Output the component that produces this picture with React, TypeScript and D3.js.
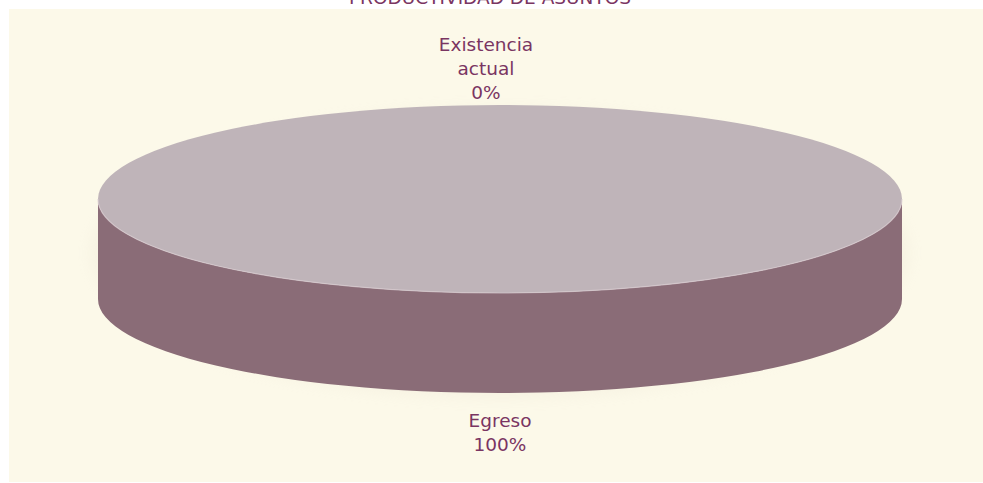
import React from "react";
import * as d3 from "d3";

const categories = ["Existencia actual", "Egreso"];
const values = [0, 100];
const labelLines = [["Existencia", "actual", "0%"], ["Egreso", "100%"]];
const title = "PRODUCTIVIDAD DE ASUNTOS";

const W = 983;
const H = 483;
const TOP = "#BFB4B9";
const SIDE = "#8A6C77";
const TEXT = "#7A3562";
const BG = "#FCF9E9";

export default function App() {
  const cx = 500, cy = 199, rx = 402, ry = 94, depth = 100;
  const pie = d3.pie<number>().sort(null).startAngle(0).endAngle(2 * Math.PI);
  const arcs = pie(values);
  const total = d3.sum(values);
  const pct = d3.format(".0%");

  const pt = (a: number, dy = 0) => [cx + rx * Math.sin(a), cy - ry * Math.cos(a) + dy];

  const slicePaths = arcs.map((a, i) => {
    const span = a.endAngle - a.startAngle;
    if (span <= 0) return null;
    let top: string;
    if (span >= 2 * Math.PI - 1e-6) {
      top = `M${cx - rx},${cy} A${rx},${ry} 0 1 1 ${cx + rx},${cy} A${rx},${ry} 0 1 1 ${cx - rx},${cy} Z`;
    } else {
      const [x0, y0] = pt(a.startAngle);
      const [x1, y1] = pt(a.endAngle);
      top = `M${cx},${cy} L${x0},${y0} A${rx},${ry} 0 ${span > Math.PI ? 1 : 0} 1 ${x1},${y1} Z`;
    }
    const s = Math.max(a.startAngle, Math.PI / 2);
    const e = Math.min(a.endAngle, (3 * Math.PI) / 2);
    let side: string | null = null;
    if (e > s) {
      const [sx, sy] = pt(s);
      const [ex, ey] = pt(e);
      side = `M${sx},${sy} L${sx},${sy + depth} A${rx},${ry} 0 0 1 ${ex},${ey + depth} L${ex},${ey} A${rx},${ry} 0 0 0 ${sx},${sy} Z`;
    }
    return { top, side, i };
  });

  const labels = arcs.map((a, i) => {
    const mid = (a.startAngle + a.endAngle) / 2;
    const lines = labelLines[i];
    const lh = 24;
    const bottomHalf = Math.cos(mid) < 0;
    let x = cx + (rx + 10) * Math.sin(mid);
    let y: number;
    if (bottomHalf) {
      y = cy - ry * Math.cos(mid) + depth + 34;
    } else {
      y = cy - ry * Math.cos(mid) - 6 - (lines.length - 1) * lh;
      x -= 14;
    }
    return { x, y, lines, lh, key: categories[i], v: pct(values[i] / total) };
  });

  return (
    <svg width={W} height={H} style={{ position: "absolute", left: 0, top: 0, background: "#fff" }}
      fontFamily="'DejaVu Sans', Verdana, sans-serif">
      <defs>
        <filter id="blur" x="-20%" y="-40%" width="140%" height="180%">
          <feGaussianBlur stdDeviation="8" />
        </filter>
      </defs>
      <rect x={9} y={9} width={W - 9} height={H - 10} fill={BG} />
      <text x={490} y={4} textAnchor="middle" fontSize={18.5} fill={TEXT}>{title}</text>
      <ellipse cx={cx} cy={cy + depth / 2 + 4} rx={rx + 6} ry={ry + depth / 2} fill="#e8e0d0" opacity={0.3} filter="url(#blur)" />
      {slicePaths.map((p) => p && p.side && <path key={"s" + p.i} d={p.side} fill={SIDE} />)}
      {slicePaths.map((p) => p && <path key={"t" + p.i} d={p.top} fill={TOP} />)}
      <path d={`M${cx - rx},${cy} A${rx},${ry} 0 0 0 ${cx + rx},${cy}`} fill="none" stroke="#d8ccd2" strokeWidth={1.2} opacity={0.7} />
      {labels.map((l) => (
        <text key={l.key} x={l.x} y={l.y} textAnchor="middle" fontSize={18.5} fill={TEXT}>
          {l.lines.map((ln, j) => (
            <tspan key={j} x={l.x} y={l.y + j * l.lh}>{ln}</tspan>
          ))}
        </text>
      ))}
    </svg>
  );
}
